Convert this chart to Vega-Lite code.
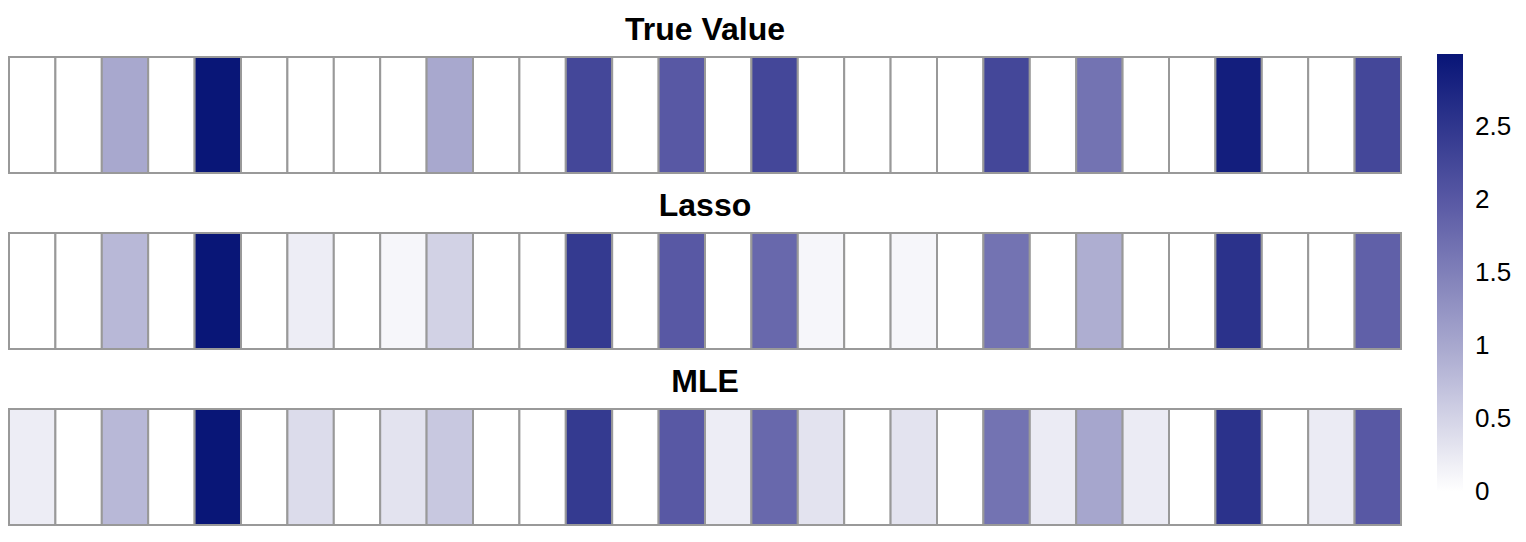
{
  "$schema": "https://vega.github.io/schema/vega-lite/v6.json",
  "autosize": {"type": "pad"},
  "padding": {"left": 8, "top": 14, "right": 0, "bottom": 0},
  "background": "#ffffff",
  "data": {"values": [
    {"m": "True Value", "i": 1, "v": 0}, {"m": "True Value", "i": 2, "v": 0}, {"m": "True Value", "i": 3, "v": 1.0}, {"m": "True Value", "i": 4, "v": 0}, {"m": "True Value", "i": 5, "v": 2.99},
    {"m": "True Value", "i": 6, "v": 0}, {"m": "True Value", "i": 7, "v": 0}, {"m": "True Value", "i": 8, "v": 0}, {"m": "True Value", "i": 9, "v": 0}, {"m": "True Value", "i": 10, "v": 1.0},
    {"m": "True Value", "i": 11, "v": 0}, {"m": "True Value", "i": 12, "v": 0}, {"m": "True Value", "i": 13, "v": 2.25}, {"m": "True Value", "i": 14, "v": 0}, {"m": "True Value", "i": 15, "v": 2.0},
    {"m": "True Value", "i": 16, "v": 0}, {"m": "True Value", "i": 17, "v": 2.25}, {"m": "True Value", "i": 18, "v": 0}, {"m": "True Value", "i": 19, "v": 0}, {"m": "True Value", "i": 20, "v": 0},
    {"m": "True Value", "i": 21, "v": 0}, {"m": "True Value", "i": 22, "v": 2.25}, {"m": "True Value", "i": 23, "v": 0}, {"m": "True Value", "i": 24, "v": 1.66}, {"m": "True Value", "i": 25, "v": 0},
    {"m": "True Value", "i": 26, "v": 0}, {"m": "True Value", "i": 27, "v": 2.86}, {"m": "True Value", "i": 28, "v": 0}, {"m": "True Value", "i": 29, "v": 0}, {"m": "True Value", "i": 30, "v": 2.25},
    {"m": "Lasso", "i": 1, "v": 0}, {"m": "Lasso", "i": 2, "v": 0}, {"m": "Lasso", "i": 3, "v": 0.82}, {"m": "Lasso", "i": 4, "v": 0}, {"m": "Lasso", "i": 5, "v": 2.99},
    {"m": "Lasso", "i": 6, "v": 0}, {"m": "Lasso", "i": 7, "v": 0.21}, {"m": "Lasso", "i": 8, "v": 0}, {"m": "Lasso", "i": 9, "v": 0.1}, {"m": "Lasso", "i": 10, "v": 0.52},
    {"m": "Lasso", "i": 11, "v": 0}, {"m": "Lasso", "i": 12, "v": 0}, {"m": "Lasso", "i": 13, "v": 2.45}, {"m": "Lasso", "i": 14, "v": 0}, {"m": "Lasso", "i": 15, "v": 2.0},
    {"m": "Lasso", "i": 16, "v": 0}, {"m": "Lasso", "i": 17, "v": 1.8}, {"m": "Lasso", "i": 18, "v": 0.1}, {"m": "Lasso", "i": 19, "v": 0}, {"m": "Lasso", "i": 20, "v": 0.1},
    {"m": "Lasso", "i": 21, "v": 0}, {"m": "Lasso", "i": 22, "v": 1.66}, {"m": "Lasso", "i": 23, "v": 0}, {"m": "Lasso", "i": 24, "v": 0.93}, {"m": "Lasso", "i": 25, "v": 0},
    {"m": "Lasso", "i": 26, "v": 0}, {"m": "Lasso", "i": 27, "v": 2.56}, {"m": "Lasso", "i": 28, "v": 0}, {"m": "Lasso", "i": 29, "v": 0}, {"m": "Lasso", "i": 30, "v": 1.9},
    {"m": "MLE", "i": 1, "v": 0.21}, {"m": "MLE", "i": 2, "v": 0}, {"m": "MLE", "i": 3, "v": 0.82}, {"m": "MLE", "i": 4, "v": 0}, {"m": "MLE", "i": 5, "v": 2.99},
    {"m": "MLE", "i": 6, "v": 0}, {"m": "MLE", "i": 7, "v": 0.4}, {"m": "MLE", "i": 8, "v": 0}, {"m": "MLE", "i": 9, "v": 0.32}, {"m": "MLE", "i": 10, "v": 0.63},
    {"m": "MLE", "i": 11, "v": 0}, {"m": "MLE", "i": 12, "v": 0}, {"m": "MLE", "i": 13, "v": 2.45}, {"m": "MLE", "i": 14, "v": 0}, {"m": "MLE", "i": 15, "v": 2.0},
    {"m": "MLE", "i": 16, "v": 0.21}, {"m": "MLE", "i": 17, "v": 1.8}, {"m": "MLE", "i": 18, "v": 0.32}, {"m": "MLE", "i": 19, "v": 0}, {"m": "MLE", "i": 20, "v": 0.32},
    {"m": "MLE", "i": 21, "v": 0}, {"m": "MLE", "i": 22, "v": 1.66}, {"m": "MLE", "i": 23, "v": 0.23}, {"m": "MLE", "i": 24, "v": 1.02}, {"m": "MLE", "i": 25, "v": 0.23},
    {"m": "MLE", "i": 26, "v": 0}, {"m": "MLE", "i": 27, "v": 2.56}, {"m": "MLE", "i": 28, "v": 0}, {"m": "MLE", "i": 29, "v": 0.23}, {"m": "MLE", "i": 30, "v": 2.0}
  ]},
  "facet": {
    "field": "m", "type": "nominal", "sort": ["True Value", "Lasso", "MLE"],
    "header": {"title": null, "labelFontSize": 32, "labelFont": "Liberation Sans", "labelFontWeight": "bold", "labelColor": "#000000", "labelPadding": 9}
  },
  "columns": 1,
  "spacing": 16,
  "spec": {
    "width": 1392,
    "height": 116,
    "mark": {"type": "rect", "stroke": "#999999", "strokeWidth": 2},
    "encoding": {
      "x": {"field": "i", "type": "ordinal", "axis": null, "scale": {"paddingInner": 0, "paddingOuter": 0}},
      "color": {
        "field": "v", "type": "quantitative",
        "scale": {"domain": [-0.001, 1, 2, 3], "range": ["#ffffff", "#a8a8ce", "#5858a4", "#081577"], "interpolate": "rgb"},
        "legend": {
          "orient": "none", "legendX": 1428, "legendY": -3, "direction": "vertical", "title": null,
          "gradientLength": 438, "gradientThickness": 26, "gradientStrokeWidth": 0,
          "labelFontSize": 26, "labelFont": "Liberation Sans", "labelColor": "#000000", "labelOffset": 12,
          "labelBaseline": "middle", "format": "~g", "values": [0, 0.5, 1, 1.5, 2, 2.5]
        }
      }
    }
  },
  "config": {"view": {"stroke": null}}
}
